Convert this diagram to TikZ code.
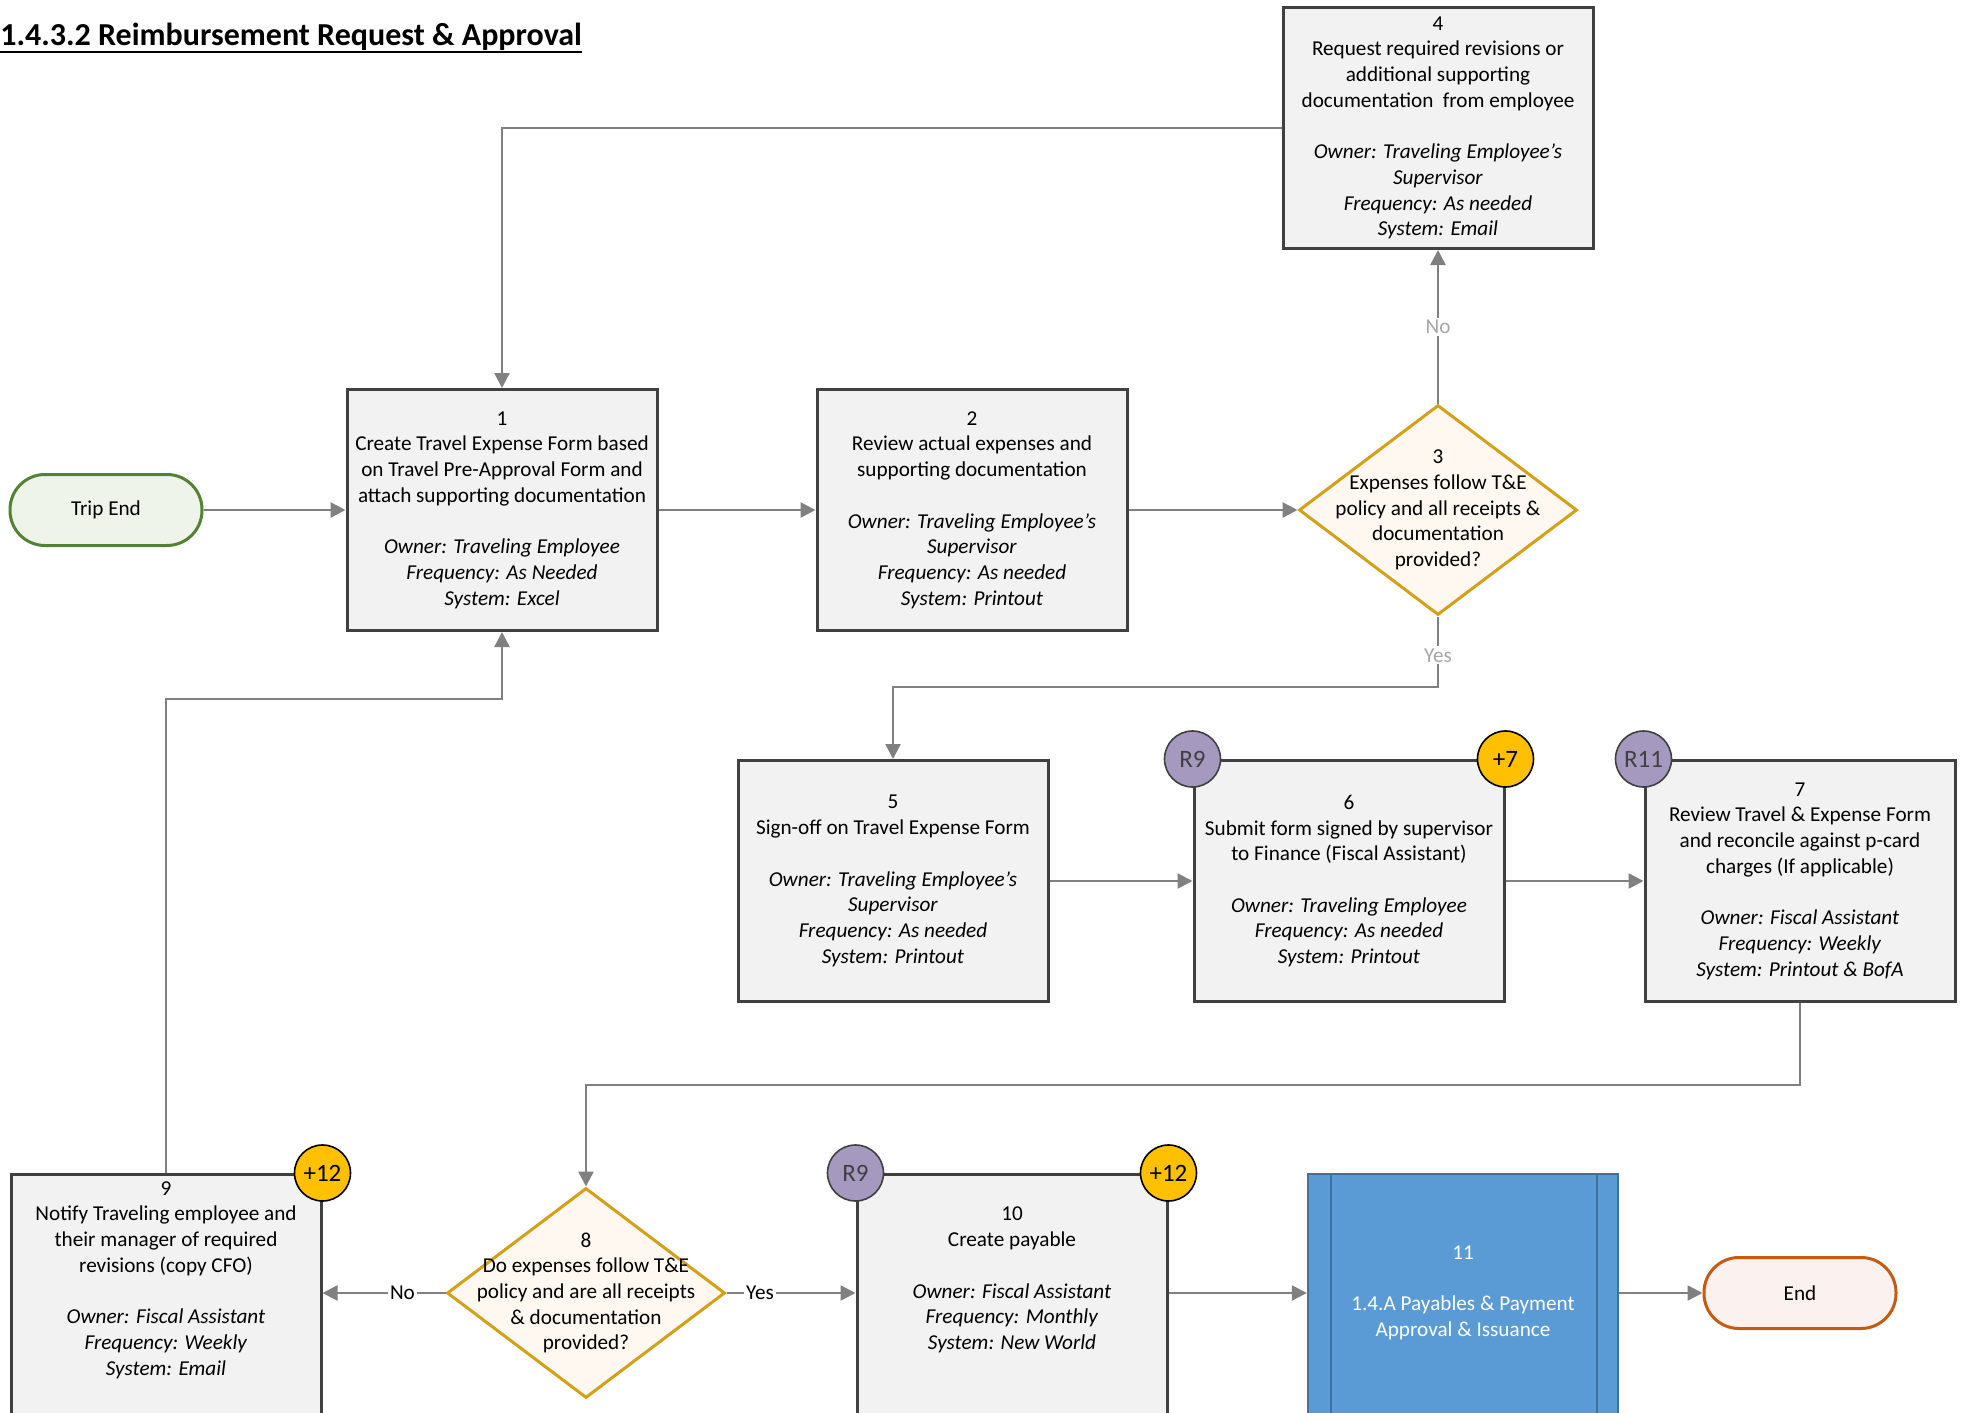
\documentclass[tikz,border=0pt]{standalone}
\usepackage{fontspec}
\setmainfont{Carlito}
\usetikzlibrary{shapes.geometric,arrows.meta,calc}

\definecolor{boxfill}{HTML}{F2F2F2}
\definecolor{boxline}{HTML}{404040}
\definecolor{flow}{HTML}{808080}
\definecolor{decline}{HTML}{D4A017}
\definecolor{decfill}{HTML}{FEF8F1}
\definecolor{startline}{HTML}{548235}
\definecolor{startfill}{HTML}{EEF4EA}
\definecolor{endline}{HTML}{C55A11}
\definecolor{endfill}{HTML}{FBF1EE}
\definecolor{riskfill}{HTML}{A599C0}
\definecolor{timefill}{HTML}{FFC000}
\definecolor{subfill}{HTML}{5B9BD5}
\definecolor{subline}{HTML}{41719C}
\definecolor{faint}{HTML}{A6A6A6}

\newcommand\flowtext{\fontsize{10.6}{12.85}\selectfont}
\newcommand\gap{\\[12.85pt]}

\tikzset{
  procbox/.style={draw=boxline, line width=1.5pt, fill=boxfill,
    minimum width=155pt, minimum height=120.5pt, inner sep=0pt,
    align=center, font=\flowtext},
  tallbox/.style={procbox, minimum height=132pt, anchor=north},
  subproc/.style={draw=subline, line width=1.2pt, fill=subfill,
    minimum width=155pt, minimum height=132pt, inner sep=0pt, anchor=north},
  decision/.style={diamond, draw=decline, line width=1.5pt, fill=decfill,
    minimum width=139pt, minimum height=105pt, inner sep=0pt},
  terminal/.style={rectangle, rounded corners=17.5pt, line width=1.5pt,
    minimum width=96pt, minimum height=35.5pt, font=\flowtext},
  badge/.style={circle, minimum size=28pt, inner sep=0pt, line width=0.8pt,
    draw=boxline, font=\fontsize{12.5}{14}\selectfont},
  txt/.style={align=center, inner sep=0pt, font=\flowtext},
  flowline/.style={draw=flow, line width=1.25pt,
    -{Triangle[length=7.5pt,width=7.5pt]}},
  lbl/.style={fill=white, inner sep=1pt, font=\flowtext},
}

\begin{document}
\begin{tikzpicture}[x=0.5pt,y=-0.5pt]
\clip (0,0) rectangle (1967,1413);
\fill[white] (0,0) rectangle (1967,1413);

% heading with its underline
\node[anchor=base west, inner sep=0pt, font=\fontsize{16}{19}\selectfont\bfseries]
  (title) at (0,46) {1.4.3.2 Reimbursement Request \& Approval};
\draw[line width=1.1pt] ([yshift=-3pt]title.base west) -- ([yshift=-3pt]title.base east);

% start and end
\node[terminal, draw=startline, fill=startfill] (trip) at (106,510) {Trip End};
\node[terminal, draw=endline, fill=endfill] (end) at (1800,1293) {End};

% process steps
\node[procbox] (b1) at (502,510) {1\\Create Travel Expense Form based\\on Travel Pre-Approval Form and\\attach supporting documentation\gap
  \textit{Owner: Traveling Employee}\\\textit{Frequency: As Needed}\\\textit{System: Excel}};
\node[procbox] (b2) at (972,510) {2\\Review actual expenses and\\supporting documentation\gap
  \textit{Owner: Traveling Employee’s}\\\textit{Supervisor}\\\textit{Frequency: As needed}\\\textit{System: Printout}};
\node[procbox] (b4) at (1438,128) {4\\Request required revisions or\\additional supporting\\documentation~ from employee\gap
  \textit{Owner: Traveling Employee’s}\\\textit{Supervisor}\\\textit{Frequency: As needed}\\\textit{System: Email}};
\node[procbox] (b5) at (893,881) {5\\Sign-off on Travel Expense Form\gap
  \textit{Owner: Traveling Employee’s}\\\textit{Supervisor}\\\textit{Frequency: As needed}\\\textit{System: Printout}};
\node[procbox] (b6) at (1349,881) {6\\Submit form signed by supervisor\\to Finance (Fiscal Assistant)\gap
  \textit{Owner: Traveling Employee}\\\textit{Frequency: As needed}\\\textit{System: Printout}};
\node[procbox] (b7) at (1800,881) {7\\Review Travel \& Expense Form\\and reconcile against p-card\\charges (If applicable)\gap
  \textit{Owner: Fiscal Assistant}\\\textit{Frequency: Weekly}\\\textit{System: Printout \& BofA}};

\node[tallbox] (b9) at (166,1173) {};
\node[txt] (t9) at (166,1280) {9\\Notify Traveling employee and\\their manager of required\\revisions (copy CFO)\gap
  \textit{Owner: Fiscal Assistant}\\\textit{Frequency: Weekly}\\\textit{System: Email}};
\node[tallbox] (b10) at (1012,1173) {};
\node[txt] (t10) at (1012,1280) {10\\Create payable\gap
  \textit{Owner: Fiscal Assistant}\\\textit{Frequency: Monthly}\\\textit{System: New World}};

% linked sub-process
\node[subproc] (b11) at (1463,1173) {};
\draw[subline, line width=1.2pt] ([xshift=12pt]b11.north west) -- ([xshift=12pt]b11.south west);
\draw[subline, line width=1.2pt] ([xshift=-11pt]b11.north east) -- ([xshift=-11pt]b11.south east);
\node[txt, text=white] (t11) at (1463,1293) {11\gap 1.4.A Payables \& Payment\\Approval \& Issuance};

% decisions
\node[decision] (d3) at (1438,510) {};
\node[txt] (t3) at (d3.center) {3\\Expenses follow T\&E\\policy and all receipts \&\\documentation\\provided?};
\node[decision] (d8) at (586,1293) {};
\node[txt] (t8) at (d8.center) {8\\Do expenses follow T\&E\\policy and are all receipts\\\& documentation\\provided?};

% bend points
\coordinate (yesbend) at (1438,687);
\coordinate (b7down) at (1800,1085);
\coordinate (back) at (166,699);

% connectors
\draw[flowline] (trip.east) -- (b1.west);
\draw[flowline] (b1.east) -- (b2.west);
\draw[flowline] (b2.east) -- (d3.west);
\draw[flowline] (d3.north) -- node[lbl, text=faint] {No} (b4.south);
\draw[flowline] (b4.west) -| (b1.north);
\draw[flowline] (d3.south) -- node[pos=0.55, lbl, text=faint] {Yes} (yesbend) -| (b5.north);
\draw[flowline] (b5.east) -- (b6.west);
\draw[flowline] (b6.east) -- (b7.west);
\draw[flowline] (b7.south) -- (b7down) -| (d8.north);
\draw[flowline] (d8.west) -- node[pos=0.35, lbl] {No} (d8.west -| b9.east);
\draw[flowline] (d8.east) -- node[pos=0.26, lbl] {Yes} (d8.east -| b10.west);
\draw[flowline] (b9.north) -- (back) -| (b1.south);
\draw[flowline] (b10.east |- d8.east) -- (b11.west |- d8.east);
\draw[flowline] (b11.east |- end.west) -- (end.west);

% risk and timing markers
\node[badge, fill=riskfill, text=boxline] (r6) at (b6.north west) {R9};
\node[badge, fill=timefill, draw=black] (p6) at (b6.north east) {+7};
\node[badge, fill=riskfill, text=boxline] (r7) at (b7.north west) {R11};
\node[badge, fill=timefill, draw=black] (p9) at (b9.north east) {+12};
\node[badge, fill=riskfill, text=boxline] (r10) at (b10.north west) {R9};
\node[badge, fill=timefill, draw=black] (p10) at (b10.north east) {+12};
\end{tikzpicture}
\end{document}
